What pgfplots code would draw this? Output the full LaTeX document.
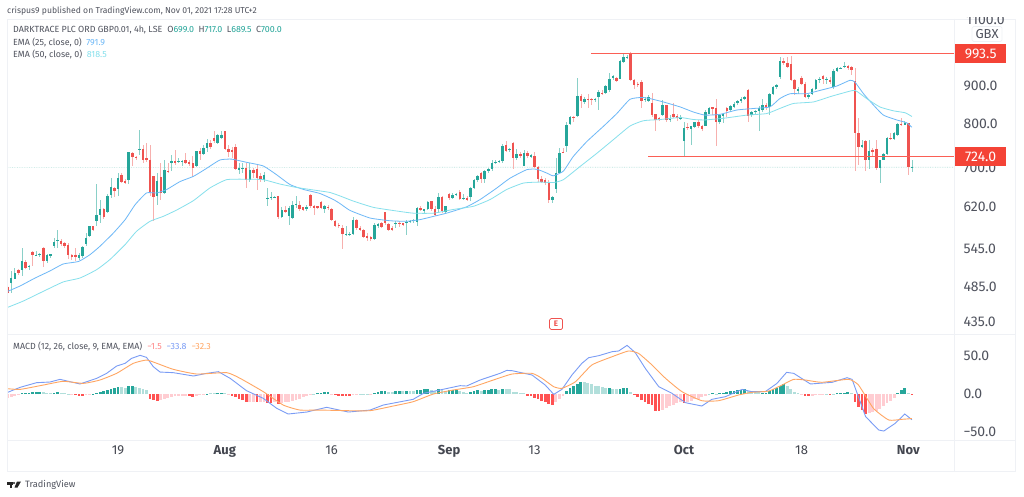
\documentclass[border=0pt]{standalone}
\usepackage{pgfplots}
\usepackage{pgfplotstable}
\usepackage{fontspec}
\setmainfont{Fira Sans}
\pgfplotsset{compat=1.18}
\definecolor{upc}{HTML}{26A69A}
\definecolor{dnc}{HTML}{EF5350}
\definecolor{upw}{HTML}{8AD0C8}
\definecolor{dnw}{HTML}{F7B0AE}
\definecolor{ema1}{HTML}{6DB8F7}
\definecolor{ema2}{HTML}{86E0EC}
\definecolor{macdc}{HTML}{7A9CF5}
\definecolor{sigc}{HTML}{FFA663}
\definecolor{hdg}{HTML}{26A69A}
\definecolor{hlg}{HTML}{B2DFDB}
\definecolor{hlr}{HTML}{FFCDD2}
\definecolor{hdr}{HTML}{FF5252}
\definecolor{lvl}{HTML}{F44336}
\definecolor{lvlline}{HTML}{FB5F55}
\definecolor{lastp}{HTML}{B7E2DC}
\definecolor{txt}{HTML}{50535E}
\definecolor{frm}{HTML}{EFF1F5}
\pgfplotstableread{
x o h l c
1 491 509 476 498
2 497 514 496 505
4 510 547 501 525
6 516 519 511 517
8 534 541 533 535
9 534 538 532 536
11 525 537 522 535
12 533 537 530 536
13 549 563 547 557
14 558 578 547 559
20 530 538 526 535
21 533 549 530 548
22 553 572 550 564
23 566 585 565 584
25 594 666 584 605
26 605 634 590 616
28 610 644 608 641
29 643 677 638 660
31 654 688 641 677
34 673 735 666 733
37 738 785 727 741
42 641 688 624 672
44 647 716 644 695
46 709 727 692 714
48 712 720 709 714
49 712 717 704 713
53 702 737 700 736
55 730 750 727 744
56 744 763 735 754
59 754 776 753 774
60 766 782 764 774
65 695 709 686 698
66 696 709 688 698
68 674 709 670 695
72 673 691 670 683
73 636 657 621 638
74 638 648 634 639
75 638 641 637 639
77 600 620 599 614
79 602 621 587 618
80 599 631 598 624
81 624 641 618 626
84 615 624 612 620
89 615 624 608 622
95 569 584 567 571
96 568 573 566 570
97 570 601 569 596
103 561 589 560 587
104 584 590 581 588
109 588 593 581 590
112 591 596 569 592
113 592 596 589 594
114 593 597 590 596
115 592 620 585 617
117 613 616 608 615
118 615 632 614 630
121 615 647 608 639
123 611 622 607 621
125 638 647 636 642
126 642 647 641 644
128 636 644 634 638
130 639 659 632 657
131 657 675 654 673
132 673 684 670 682
134 676 695 667 692
135 693 698 689 696
136 697 716 693 710
137 710 716 708 712
138 712 716 709 713
139 713 752 710 748
141 739 742 735 740
143 720 740 717 730
145 704 739 703 731
147 722 730 720 727
153 633 641 628 639
154 654 720 647 689
155 689 742 688 732
157 747 806 735 797
158 800 821 797 818
160 820 922 818 872
162 856 868 850 864
165 861 866 856 863
166 868 887 835 883
168 880 903 876 899
169 887 936 883 920
170 922 930 915 927
172 920 974 918 972
173 969 996 966 982
174 982 989 976 984
179 861 870 856 865
180 859 874 856 868
184 822 861 820 847
186 811 822 806 816
189 812 822 810 818
190 758 806 724 790
192 788 795 750 794
193 792 806 790 804
196 795 835 794 829
197 826 842 825 839
200 804 826 800 822
201 820 828 802 824
203 835 848 830 845
204 842 856 839 850
205 852 861 848 858
206 858 868 852 863
207 864 872 861 870
209 822 832 818 830
210 829 835 822 832
211 833 845 784 841
212 835 864 830 848
214 843 880 822 876
215 876 899 874 895
216 895 906 892 903
217 923 982 920 971
222 885 895 878 890
225 870 876 865 874
226 878 894 875 890
227 890 918 887 915
228 915 923 908 920
230 917 925 906 920
232 895 946 892 942
233 942 954 940 949
234 949 954 946 951
235 954 969 951 957
240 746 762 742 750
242 717 762 696 737
245 698 717 667 716
246 716 731 715 730
247 729 768 727 766
249 765 780 762 778
250 774 802 771 800
252 798 808 797 803
254 699 717 689.5 700
}\upbars
\pgfplotstableread{
x o h l c
0 485 487 476 476
3 510 512 503 506
5 523 527 512 514
7 540 541 517 535
10 547 548 515 525
15 558 561 550 553
16 555 557 547 550
17 552 554 528 534
18 535 537 526 531
19 535 547 525 532
24 584 585 575 578
27 616 618 597 600
30 656 659 639 651
32 684 689 667 669
33 672 675 665 667
35 731 733 702 722
36 723 724 716 720
38 741 750 709 716
39 720 754 711 716
40 717 750 641 649
41 681 681 593 639
43 680 709 634 647
45 693 709 688 692
47 714 739 705 709
50 715 731 707 710
51 711 717 704 707
52 709 724 680 698
54 737 742 716 730
57 754 762 740 745
58 766 784 754 758
61 782 783 739 741
62 741 750 722 735
63 739 746 720 733
64 745 753 695 697
67 698 709 657 674
69 695 698 677 689
70 697 705 652 677
71 681 688 670 674
76 641 641 598 600
78 614 621 608 610
82 624 631 613 616
83 619 620 612 614
85 643 644 618 622
86 622 624 604 618
87 621 622 615 618
88 630 632 616 618
90 620 623 614 618
91 616 618 593 595
92 593 596 583 585
93 586 590 581 584
94 580 587 544 571
98 596 597 578 581
99 581 584 575 577
100 577 579 563 565
101 567 572 558 563
102 565 566 558 561
105 589 591 581 583
106 610 611 587 589
107 588 590 575 578
108 581 585 577 578
110 590 593 583 589
111 589 590 584 587
116 617 622 612 614
119 631 632 612 615
120 616 621 603 605
122 639 641 608 612
124 645 647 634 638
127 649 652 634 636
129 638 641 632 633
133 689 691 668 676
140 749 758 735 737
142 755 757 697 720
144 730 733 720 724
146 731 737 720 724
148 724 735 698 700
149 701 702 670 675
150 676 681 667 670
151 673 677 664 668
152 670 674 628 633
156 734 742 731 733
159 818 820 806 816
161 872 878 839 858
163 864 878 839 862
164 863 867 848 861
167 881 887 874 878
171 922 925 910 913
175 994 999 915 917
176 917 920 892 902
177 906 910 895 902
178 910 915 839 859
181 852 880 818 823
182 824 826 782 811
183 816 818 810 811
185 847 848 806 810
187 826 852 814 818
188 820 826 808 815
191 792 802 785 790
194 806 810 790 794
195 795 798 784 787
198 842 843 822 838
199 840 863 748 804
202 839 843 818 833
208 889 891 806 820
213 848 854 835 839
218 971 979 959 966
219 966 982 949 954
220 962 986 912 915
221 917 920 874 890
223 922 927 904 906
224 906 910 868 870
229 927 930 906 920
231 917 923 906 910
236 957 959 944 949
237 952 956 929 944
238 913 949 692 778
239 778 816 705 746
241 759 761 693 717
243 739 742 724 735
244 741 762 695 698
248 766 778 762 764
251 800 814 794 798
253 802 803 684 700
}\downbars
\begin{document}
\begin{tikzpicture}
\useasboundingbox (0pt,0pt) rectangle (1024pt,496pt);
\fill[white] (0pt,0pt) rectangle (1024pt,496pt);
\begin{axis}[
  name=price, scale only axis, at={(7pt,161.5pt)}, anchor=south west,
  width=947.5pt, height=315.5pt,
  xmin=-0.19, xmax=265.97, ymode=log, ymin=418.6, ymax=1105,
  axis line style={draw=none}, tick style={draw=none}, yminorticks=false,
  xtick=\empty,
  ytick={435,485,545,620,700,800,900},
  yticklabels={435.0,485.0,545.0,620.0,700.0,800.0,900.0},
  yticklabel pos=right,
  yticklabel style={anchor=west, xshift=5.5pt, text=txt, font=\fontsize{14}{16}\selectfont},
  clip=true,
]
\addplot[draw=lastp, densely dotted, line width=.7pt, forget plot] coordinates {(-0.19,700) (265.97,700.15)};
\addplot[draw=none, forget plot, error bars/.cd, y dir=both, y explicit, error mark=none, error bar style={solid, draw=upw, line width=.6pt}]
  table[x=x, y=c, y error plus expr=\thisrow{h}-\thisrow{c}, y error minus expr=\thisrow{c}-\thisrow{l}] {\upbars};
\addplot[draw=none, forget plot, error bars/.cd, y dir=both, y explicit, error mark=none, error bar style={solid, draw=dnw, line width=.6pt}]
  table[x=x, y=c, y error plus expr=\thisrow{h}-\thisrow{c}, y error minus expr=\thisrow{c}-\thisrow{l}] {\downbars};
\addplot[draw=none, forget plot, error bars/.cd, y dir=minus, y explicit, error mark=none, error bar style={solid, draw=upc, line width=2.5pt}]
  table[x=x, y=c, y error minus expr=\thisrow{c}-\thisrow{o}] {\upbars};
\addplot[draw=none, forget plot, error bars/.cd, y dir=minus, y explicit, error mark=none, error bar style={solid, draw=dnc, line width=2.5pt}]
  table[x=x, y=o, y error minus expr=\thisrow{o}-\thisrow{c}] {\downbars};
\addplot[fill=lvlline, draw=none, forget plot] coordinates {(163.9,991.8) (265.97,991.8) (265.97,995.2) (163.9,995.2)} --cycle;
\addplot[draw=lvlline, line width=1.1pt, forget plot] coordinates {(179.9,724) (265.97,724)};
\addplot[ema1, line width=.8pt, smooth, tension=.3] coordinates {
(0,478)(3.5,486)(7.7,498)(11.9,509)(15.6,520)(19.9,524)(23.1,535)(25.9,549)(29.7,572)(33,596)(35.8,624)(39,647)(41.9,647)(44.7,654)(48.4,670)(52.2,681)(55.9,698)(59.6,716)(62.9,718)(67.1,711)(71.8,703)(75.6,684)(79.3,664)(83.1,654)(87.7,646)(91.5,634)(93.4,626)(96.2,613)(101.8,599)(107.4,594)(112.1,593)(115.8,596)(119.6,602)(123.3,608)(128.9,620)(132.7,634)(137.4,657)(141.1,677)(145.8,695)(148.6,696)(151.4,688)(153.3,682)(156.1,692)(158.9,724)(162.7,758)(167.3,794)(171.1,826)(174.8,863)(178.1,868)(180.4,865)(184.2,856)(188.9,843)(192.6,830)(195.9,822)(200.1,824)(204.8,835)(209.5,839)(214.1,843)(216.9,865)(219.8,878)(224.4,878)(228.2,887)(232.9,899)(236.6,915)(238,910)(240.4,878)(243.2,848)(246,822)(249.7,810)(252.5,803)(254,791.9)};
\addplot[ema2, line width=.8pt, smooth, tension=.3] coordinates {
(0,455)(4.4,464)(10,478)(15.6,492)(20.3,498)(25,511)(28.7,527)(33,552)(36.2,575)(40,593)(43.7,602)(47.5,614)(52.2,632)(56.8,657)(61.5,674)(67.1,675)(71.8,674)(76.5,665)(81.2,658)(86.8,652)(90.5,648)(93.4,641)(97.1,631)(102.7,619)(108.3,613)(113.9,608)(119.6,608)(125.2,615)(130.8,621)(135.5,634)(140.2,654)(144.9,667)(149.5,669)(153.3,668)(156.1,674)(160.8,702)(165.5,731)(170.1,762)(174.8,795)(178.6,808)(183.3,811)(188.9,816)(192.6,811)(195.9,810)(201,814)(207.6,822)(213.2,826)(216.9,839)(220.7,852)(226.3,856)(231,870)(234.7,880)(238,887)(241.3,865)(245,843)(248.8,833)(252.1,828)(254,818.5)};
\end{axis}
\begin{axis}[
  name=macd, scale only axis, at={(7pt,56pt)}, anchor=south west,
  width=947.5pt, height=105.5pt,
  xmin=-0.19, xmax=265.97, ymin=-60.5, ymax=78.3,
  axis line style={draw=none}, tick style={draw=none},
  xtick={31,61,91,124,148,190,223,253},
  xticklabels={19,\textbf{Aug},16,\textbf{Sep},13,\textbf{Oct},18,\textbf{Nov}},
  xticklabel style={text=txt!85!black, yshift=-2pt, font=\fontsize{13}{15}\selectfont},
  ytick={-50,0,50},
  yticklabels={−50.0,0.0,50.0},
  yticklabel pos=right,
  yticklabel style={anchor=west, xshift=5.5pt, text=txt, font=\fontsize{14}{16}\selectfont},
]
\addplot[ycomb, no marks, hlg, line width=2.9pt, forget plot] coordinates {
(10,3)(11,1.5)(12,1.5)(15,1)(16,1)(17,.5)(32,9)(33,8)(36,9)(37,8)(38,7)(39,5)(57,1)(58,1)(61,1)(86,.5)(99,.5)(100,.5)(101,.5)(107,3)(108,3)(111,4)(113,4)(114,4)(119,5)(120,4)(122,5)(123,4)(127,4)(128,3)(129,2)(133,4)(138,5)(140,7)(141,6)(142,3)(143,3)(144,2)(145,1)(162,16)(163,15)(164,13)(165,11)(166,10)(167,9)(168,8)(170,7)(171,6)(175,3)(197,.5)(199,.5)(208,4)(209,3)(210,3)(211,3)(219,10)(220,6)(221,3)(222,1.5)(230,.5)(232,.5)(237,1.5)(253,1.5)};
\addplot[ycomb, no marks, hlr, line width=2.9pt, forget plot] coordinates {
(0,-5)(1,-4)(2,-2)(3,-1)(18,-.5)(22,-1.5)(23,-.5)(43,-7.5)(44,-6)(45,-5)(46,-4)(47,-3)(48,-2.5)(49,-2.5)(50,-2)(53,-2)(54,-1)(55,-.5)(62,-.5)(68,-11)(69,-10)(71,-10)(72,-10)(75,-11)(77,-12)(78,-11)(79,-10)(80,-9)(81,-8)(82,-6)(83,-4)(84,-2)(85,-1)(91,-1)(97,-1)(98,-.5)(102,-.5)(154,-10)(155,-6)(156,-2)(184,-21)(185,-19)(186,-16)(187,-14)(188,-12)(189,-10)(191,-10)(192,-9)(193,-7)(194,-6)(195,-4)(196,-3)(223,-.5)(226,-2)(227,-1.5)(228,-1)(229,-.5)(242,-25)(243,-24)(244,-22)(245,-20)(246,-16)(247,-12)(248,-9)(249,-5)};
\addplot[ycomb, no marks, hdg, line width=2.7pt, forget plot] coordinates {
(4,1.5)(5,2)(6,2)(7,2.5)(8,3)(9,3)(13,2)(14,3)(24,.5)(25,1.5)(26,2.5)(27,3.5)(28,5)(29,7)(30,8)(31,9)(34,10)(35,10)(56,.5)(59,1.5)(60,1.5)(87,1.5)(88,2)(89,2.5)(90,2.5)(103,1.5)(104,3)(105,4)(106,4)(109,4)(110,4)(112,4)(115,5)(116,5)(117,6)(118,6)(121,6)(124,5)(125,5)(126,5)(130,3)(131,4)(132,5)(134,5)(135,5)(136,6)(137,6)(139,6)(157,4)(158,8)(159,10)(160,13)(161,16)(169,7.5)(172,7)(173,8)(174,8)(198,2)(200,1.5)(201,2)(202,3)(203,4)(204,4.5)(205,5)(206,5)(207,6)(212,2)(213,2)(214,4)(215,6)(216,8)(217,10)(218,13)(233,1.5)(234,2)(235,2)(236,2.5)(250,2)(251,5)(252,8)};
\addplot[ycomb, no marks, hdr, line width=2.7pt, forget plot] coordinates {
(19,-1)(20,-2)(21,-2)(40,-7)(41,-8)(42,-9.5)(51,-3)(52,-4)(63,-2)(64,-4)(65,-7)(66,-8)(67,-11)(70,-11)(73,-12)(74,-12)(76,-13)(92,-1.5)(93,-2)(94,-3)(95,-3)(96,-3)(146,-2)(147,-3)(148,-5)(149,-7)(150,-9)(151,-11)(152,-13)(153,-15)(176,-1)(177,-4)(178,-8)(179,-10)(180,-13)(181,-15)(182,-22)(183,-22)(190,-12)(224,-2)(225,-3)(231,-1)(238,-10)(239,-17)(240,-21)(241,-26)(254,-1.5)};
\addplot[macdc, line width=.9pt] coordinates {
(0,2.2)(3.5,8.8)(8.1,14.9)(11.9,15.8)(14.7,19.3)(20.3,13.2)(25,20.6)(27.8,27.2)(30.6,36.8)(33,40.4)(34.8,46.9)(37.2,50.9)(39,48.2)(40.9,36)(42.8,28.9)(46.5,28.1)(52.2,23.7)(55.9,27.2)(59.2,29.4)(62.5,20.6)(67.1,4.4)(71.8,-5.7)(75.6,-18.9)(78.8,-26.3)(84,-23.7)(89.6,-17.5)(95.7,-23.7)(101.8,-21.1)(105.5,-14.5)(113.9,-7)(116.8,.9)(121.4,5.3)(127.1,11)(128.9,10.5)(132.7,18.4)(138.3,27.2)(140.2,31.1)(141.7,30.7)(147.3,25)(151,11.8)(153.4,-.4)(155.7,6.1)(158.5,25)(161.3,40.4)(163.2,47.8)(166,50.4)(169.8,55.7)(171.6,56.6)(174,64)(176.3,54.4)(179.1,33.8)(182.9,9.6)(186.6,.9)(190.4,-11.4)(195,-15.8)(197.8,-7)(201.6,-3.5)(206.3,6.1)(209,3.1)(212.8,3.1)(216.1,14)(218.8,28.5)(220.8,27.2)(225.5,13.2)(231.6,15.4)(235.8,21.5)(237.2,19.3)(241,-29.8)(244.7,-47.4)(246.1,-48.7)(249.3,-38.6)(252,-26.3)(254,-33.8)};
\addplot[sigc, line width=.9pt, smooth, tension=.3] coordinates {
(0,7)(3.5,6.1)(10,11.8)(15.6,16.7)(21.3,14)(25.9,18.4)(30.6,27.2)(35.3,40.4)(39,44.7)(41.9,40.4)(46.5,32.5)(53.1,26.3)(61.5,28.1)(65.3,20.6)(71.8,3.1)(77.4,-14.5)(82.1,-21.1)(87.7,-21.1)(95.2,-21.9)(101.8,-21.9)(108.3,-15.8)(113.9,-10.1)(119.6,0)(125.2,5.3)(130.8,9.6)(136.4,18.4)(141.7,26.3)(147.3,27.2)(150.1,20.6)(153.4,9.6)(155.7,7.5)(159.5,16.2)(164.1,38.2)(169.8,49.1)(174.4,56.6)(177.2,53.5)(181,38.2)(184.8,20.6)(189.4,3.1)(195,-8.8)(199.7,-8.8)(205.3,-1.3)(209,2.2)(213.8,3.9)(217.5,11.8)(220.8,19.3)(224.1,18.4)(228.7,15.4)(236.2,19.3)(239,11.8)(243.2,-18.9)(247.5,-34.2)(251.2,-33.3)(254,-32.3)};
\end{axis}
% frame
\draw[frm, line width=.8pt] (7pt,477pt) rectangle (1015pt,25pt);
\draw[frm, line width=.8pt] (954.5pt,477pt) -- (954.5pt,25pt);
\draw[frm, line width=.8pt] (7pt,161.5pt) -- (1015pt,161.5pt);
\draw[frm, line width=.8pt] (7pt,56pt) -- (1015pt,56pt);
% clipped top tick
\begin{scope}
\clip (956pt,478.5pt) rectangle (1014pt,460pt);
\node[anchor=west, inner sep=0pt, text=txt, font=\fontsize{14}{16}\selectfont] at (966pt,476pt) {1100.0};
\end{scope}
\node[draw=frm, fill=white, rounded corners=1.5pt, line width=.7pt, text=txt, inner xsep=2pt, inner ysep=1pt, minimum width=30pt, minimum height=15pt, font=\fontsize{13}{14}\selectfont] at (987pt,462pt) {GBX};
% price tags
\node[fill=lvl, text=white, anchor=west, minimum width=51pt, minimum height=19pt, inner sep=0pt, font=\fontsize{14}{15}\selectfont] at (955pt,442.3pt) {993.5};
\node[fill=lvl, text=white, anchor=west, minimum width=51pt, minimum height=19.5pt, inner sep=0pt, font=\fontsize{14}{15}\selectfont] at (955pt,339.5pt) {724.0};
% earnings marker
\draw[dnc, fill=white, line width=.7pt, rounded corners=1.5pt] (549.5pt,177.5pt) rectangle (562.5pt,166.5pt);
\node[text=dnc, inner sep=0pt, font=\bfseries\fontsize{8}{9}\selectfont] at (556pt,172pt) {E};
% header
\node[anchor=west, inner sep=0pt, text=txt, font=\fontsize{8.6}{10}\selectfont] at (7pt,485pt) {crispus9 published on TradingView.com, Nov 01, 2021 17:28 UTC+2};
\node[anchor=west, inner sep=0pt, text=txt, font=\fontsize{8.9}{10}\selectfont] at (13pt,466pt) {DARKTRACE PLC ORD GBP0.01, 4h, LSE\hspace{5pt}O\textcolor{upc}{699.0}\hspace{4.5pt}H\textcolor{upc}{717.0}\hspace{4.5pt}L\textcolor{upc}{689.5}\hspace{4.5pt}C\textcolor{upc}{700.0}};
\node[anchor=west, inner sep=0pt, text=txt, font=\fontsize{8.9}{10}\selectfont] at (13pt,454pt) {EMA (25, close, 0)\hspace{4.5pt}\textcolor{ema1}{791.9}};
\node[anchor=west, inner sep=0pt, text=txt, font=\fontsize{8.9}{10}\selectfont] at (13pt,442pt) {EMA (50, close, 0)\hspace{4.5pt}\textcolor{ema2}{818.5}};
\node[anchor=west, inner sep=0pt, text=txt, font=\fontsize{8.9}{10}\selectfont] at (13pt,150pt) {MACD (12, 26, close, 9, EMA, EMA)\hspace{5pt}\textcolor{hdr!70}{−1.5}\hspace{5pt}\textcolor{macdc}{−33.8}\hspace{5pt}\textcolor{sigc}{−32.3}};
% logo
\fill[black!85] (7pt,14.5pt) rectangle (13pt,11.5pt);
\fill[black!85] (9.5pt,14.5pt) rectangle (12pt,8.5pt);
\fill[black!85] (14pt,13pt) circle (1.2pt);
\fill[black!85] (17pt,14.5pt) -- (21pt,14.5pt) -- (17.5pt,8.5pt) -- (14.5pt,8.5pt) -- cycle;
\node[anchor=west, inner sep=0pt, text=txt, font=\fontsize{9.2}{11}\selectfont] at (25pt,11.5pt) {TradingView};
\end{tikzpicture}
\end{document}
